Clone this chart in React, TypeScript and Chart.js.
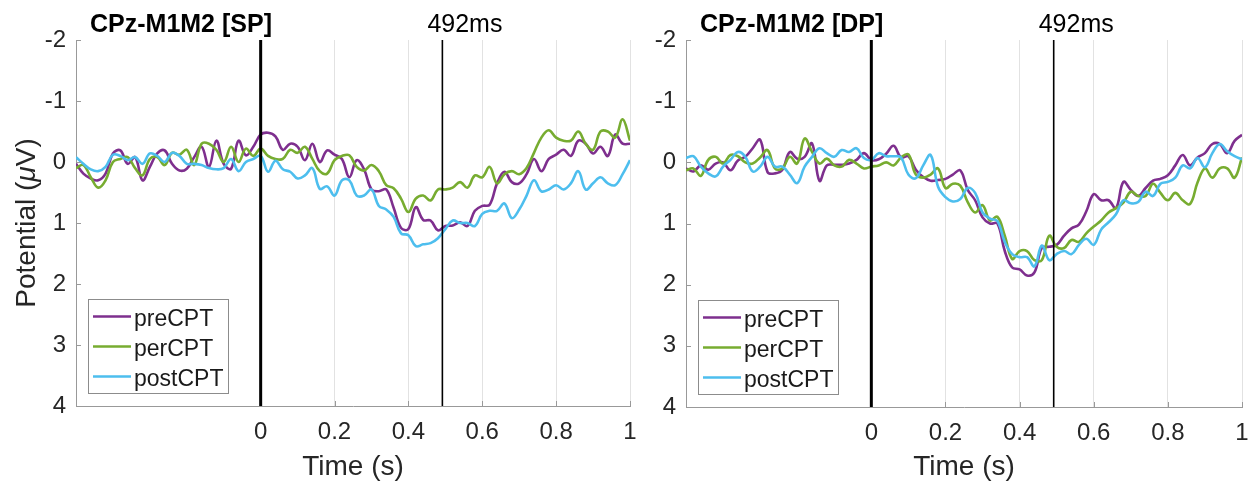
import React, { useEffect, useRef } from 'react';
import { Chart, registerables } from 'chart.js';

Chart.register(...registerables);

// ---------- data ----------
const TIME = [
  -0.5, -0.48, -0.46, -0.44, -0.42, -0.4, -0.38, -0.36, -0.34, -0.32, -0.3, -0.28, -0.26,
  -0.24, -0.22, -0.2, -0.18, -0.16, -0.14, -0.12, -0.1, -0.08, -0.06, -0.04, -0.02, 0,
  0.02, 0.04, 0.06, 0.08, 0.1, 0.12, 0.14, 0.16, 0.18, 0.2, 0.22, 0.24, 0.26, 0.28, 0.3,
  0.32, 0.34, 0.36, 0.38, 0.4, 0.42, 0.44, 0.46, 0.48, 0.5, 0.52, 0.54, 0.56, 0.58, 0.6,
  0.62, 0.64, 0.66, 0.68, 0.7, 0.72, 0.74, 0.76, 0.78, 0.8, 0.82, 0.84, 0.86, 0.88, 0.9,
  0.92, 0.94, 0.96, 0.98, 1,
];

const SP_PRE = [
  0.03, 0.19, 0.27, 0.3, 0.19, -0.14, -0.19, 0.03, -0.08, 0.3, 0.08, -0.14, -0.19, 0.03, 0.14, 0.11, -0.08, -0.25, 0.08, -0.35, 0.03, 0.11, -0.35, -0.11, -0.25, -0.45,
  -0.48, -0.42, -0.2, -0.3, -0.25, -0.03, -0.3, 0.0, -0.19, -0.12, -0.05, 0.25, -0.03, 0.12, 0.45, 0.48, 0.45, 0.75, 1.08, 1.1, 0.74, 0.95, 0.96, 1.12, 1.05,
  1.04, 0.99, 1.05, 0.8, 0.72, 0.7, 0.35, 0.16, 0.33, 0.35, 0.2, -0.05, 0.15, -0.05, -0.12, -0.2, -0.1, -0.35, -0.3, -0.14, -0.25, -0.1, -0.45, -0.3, -0.3,
];
const SP_PER = [
  0.1, 0.05, 0.25, 0.42, 0.3, 0.0, -0.05, -0.08, 0.1, 0.22, -0.05, -0.08, 0.05, -0.15, -0.12, -0.2, 0.05, -0.3, -0.3, -0.2, 0.0, -0.25, 0.0, -0.22, -0.1, -0.22,
  -0.1, -0.05, -0.05, -0.2, -0.15, -0.25, -0.05, 0.15, 0.19, -0.03, -0.1, -0.11, 0.08, 0.14, 0.05, 0.15, 0.38, 0.43, 0.6, 0.82, 0.6, 0.55, 0.63, 0.45, 0.45,
  0.42, 0.33, 0.42, 0.22, 0.25, 0.08, 0.35, 0.2, 0.15, 0.2, 0.1, -0.15, -0.4, -0.52, -0.4, -0.35, -0.35, -0.5, -0.3, -0.2, -0.5, -0.5, -0.4, -0.7, -0.35,
];
const SP_POST = [
  -0.08, 0.03, 0.12, 0.15, 0.08, -0.12, -0.1, -0.03, -0.08, 0.03, -0.14, -0.1, 0.0, -0.15, -0.1, 0.03, 0.03, 0.05, 0.1, 0.12, 0.1, -0.05, 0.15, 0.0, -0.05, -0.1,
  0.16, -0.02, 0.12, 0.16, 0.27, 0.22, 0.1, 0.44, 0.4, 0.55, 0.3, 0.3, 0.55, 0.55, 0.45, 0.72, 0.78, 0.9, 1.17, 1.2, 1.38, 1.35, 1.33, 1.25, 1.1,
  0.96, 1.0, 1.0, 1.05, 0.85, 0.8, 0.8, 0.68, 0.92, 0.78, 0.55, 0.3, 0.48, 0.45, 0.38, 0.45, 0.35, 0.15, 0.45, 0.35, 0.25, 0.35, 0.38, 0.2, -0.03,
];

const DP_PRE = [
  0.1, 0.15, 0.05, 0.12, 0.02, 0.0, 0.13, -0.03, -0.09, -0.23, -0.37, 0.16, 0.18, 0.12, -0.17, -0.06, -0.09, -0.31, 0.3, 0.05, 0.04, 0.04, 0.02, -0.04, -0.15, -0.04,
  -0.05, -0.14, -0.27, -0.08, -0.1, 0.12, 0.24, 0.3, 0.29, 0.27, 0.2, 0.13, 0.45, 0.62, 0.9, 1.0, 1.0, 1.45, 1.72, 1.75, 1.85, 1.8, 1.4, 1.38, 1.35,
  1.2, 1.08, 1.02, 0.8, 0.52, 0.62, 0.62, 0.75, 0.32, 0.45, 0.55, 0.42, 0.3, 0.27, 0.21, 0.05, -0.12, 0.05, -0.08, -0.15, -0.3, -0.3, -0.15, -0.35, -0.45,
];
const DP_PER = [
  0.13, 0.1, 0.22, -0.04, -0.09, 0.02, -0.12, -0.1, 0.0, 0.02, -0.08, -0.2, 0.1, 0.1, -0.09, 0.02, -0.39, -0.17, 0.02, -0.06, 0.05, 0.07, -0.04, 0.02, 0.1, 0.07,
  0.05, 0.0, 0.05, -0.08, -0.13, 0.2, 0.25, 0.2, 0.1, 0.42, 0.35, 0.38, 0.65, 0.82, 0.7, 0.95, 0.89, 1.2, 1.58, 1.45, 1.45, 1.6, 1.6, 1.2, 1.38,
  1.4, 1.27, 1.3, 1.16, 1.05, 0.95, 0.82, 0.75, 0.66, 0.48, 0.55, 0.55, 0.35, 0.5, 0.62, 0.5, 0.62, 0.68, 0.33, 0.1, 0.25, 0.1, 0.1, 0.25, -0.08,
];
const DP_POST = [
  -0.07, -0.1, 0.07, 0.18, 0.23, 0.07, -0.04, -0.17, -0.09, 0.15, 0.07, -0.09, 0.07, 0.07, 0.2, 0.34, 0.07, -0.09, -0.23, -0.15, -0.09, -0.2, -0.17, -0.23, -0.07, -0.04,
  -0.15, -0.1, -0.1, -0.08, 0.2, 0.26, 0.05, -0.12, 0.4, 0.57, 0.64, 0.6, 0.42, 0.5, 0.82, 0.92, 0.96, 1.3, 1.5, 1.55, 1.55, 1.7, 1.36, 1.6, 1.5,
  1.45, 1.5, 1.35, 1.25, 1.35, 1.1, 0.98, 0.85, 0.62, 0.67, 0.65, 0.48, 0.55, 0.35, 0.32, 0.25, 0.05, 0.1, -0.07, 0.08, -0.15, -0.3, -0.18, -0.1, -0.05,
];

const SERIES_NAMES = ['preCPT', 'perCPT', 'postCPT'];
const SERIES_COLORS = ['#7E2F8E', '#77AC30', '#4DBEEE'];
const X_TICKS = [0, 0.2, 0.4, 0.6, 0.8, 1];
const X_TICK_LABELS = ['0', '0.2', '0.4', '0.6', '0.8', '1'];
const Y_TICKS = [-2, -1, 0, 1, 2, 3, 4];
const Y_TICK_LABELS = ['-2', '-1', '0', '1', '2', '3', '4'];
const X_MIN = -0.5;
const X_MAX = 1;
const Y_MIN = -2;
const Y_MAX = 4;
const MARKER_T = 0.492;
const MARKER_LABEL = '492ms';
const X_TITLE = 'Time (s)';

const FONT = "'Liberation Sans', Arial, Helvetica, sans-serif";
const H = 483;

type Area = { left: number; right: number; top: number; bottom: number };
type PanelCfg = {
  title: string;
  series: number[][];
  area: Area;
  showYTitle: boolean;
};

const PANEL_SP: PanelCfg = {
  title: 'CPz-M1M2 [SP]',
  series: [SP_PRE, SP_PER, SP_POST],
  area: { left: 76, right: 630, top: 40, bottom: 406 },
  showYTitle: true,
};
const PANEL_DP: PanelCfg = {
  title: 'CPz-M1M2 [DP]',
  series: [DP_PRE, DP_PER, DP_POST],
  area: { left: 46, right: 602, top: 40, bottom: 407 },
  showYTitle: false,
};

const overlay = {
  id: 'overlay',
  afterDatasetsDraw(chart: any, _args: any, opts: any) {
    const { ctx, chartArea: a } = chart;
    const xs = chart.scales.x;
    const ys = chart.scales.y;
    ctx.save();

    // tick marks (inward)
    ctx.strokeStyle = '#999';
    ctx.lineWidth = 1;
    X_TICKS.forEach((v) => {
      const px = Math.round(xs.getPixelForValue(v)) + 0.5;
      ctx.beginPath();
      ctx.moveTo(px, a.bottom);
      ctx.lineTo(px, a.bottom - 5);
      ctx.stroke();
    });
    Y_TICKS.forEach((v) => {
      const py = Math.round(ys.getPixelForValue(v)) + 0.5;
      ctx.beginPath();
      ctx.moveTo(a.left, py);
      ctx.lineTo(a.left + 5, py);
      ctx.stroke();
    });

    // zero line
    const x0 = xs.getPixelForValue(0);
    ctx.strokeStyle = '#000';
    ctx.lineWidth = 3;
    ctx.beginPath();
    ctx.moveTo(x0, a.top);
    ctx.lineTo(x0, a.bottom);
    ctx.stroke();

    // marker line
    const xm = xs.getPixelForValue(MARKER_T);
    ctx.lineWidth = 1.6;
    ctx.beginPath();
    ctx.moveTo(xm, a.top);
    ctx.lineTo(xm, a.bottom);
    ctx.stroke();

    // legend
    const lx = a.left + 12;
    const ly = a.bottom - 107;
    ctx.fillStyle = '#fff';
    ctx.fillRect(lx, ly, 140, 94);
    ctx.strokeStyle = '#8c8c8c';
    ctx.lineWidth = 1;
    ctx.strokeRect(Math.round(lx) + 0.5, Math.round(ly) + 0.5, 140, 94);
    ctx.font = `23px ${FONT}`;
    ctx.textAlign = 'left';
    ctx.textBaseline = 'alphabetic';
    SERIES_NAMES.forEach((name, i) => {
      const ry = ly + 17.5 + i * 30;
      ctx.strokeStyle = SERIES_COLORS[i];
      ctx.lineWidth = 2.5;
      ctx.beginPath();
      ctx.moveTo(lx + 5, ry);
      ctx.lineTo(lx + 43, ry);
      ctx.stroke();
      ctx.fillStyle = '#1a1a1a';
      ctx.fillText(name, lx + 46, ry + 9);
    });

    // title
    ctx.fillStyle = '#000';
    ctx.font = `bold 25px ${FONT}`;
    ctx.fillText(opts.title, a.left + 14, 31.5);

    // marker label
    ctx.font = `25px ${FONT}`;
    ctx.fillStyle = '#000';
    ctx.fillText(MARKER_LABEL, xm - 15, 31.5);

    // x title
    ctx.font = `28px ${FONT}`;
    ctx.fillStyle = '#262626';
    ctx.textAlign = 'center';
    ctx.fillText(X_TITLE, (a.left + a.right) / 2, 475);

    // y title with italic mu
    if (opts.showYTitle) {
      const p1 = 'Potential (';
      const p2 = '\u03BC';
      const p3 = 'V)';
      const normal = `28px ${FONT}`;
      const italic = `italic 28px ${FONT}`;
      ctx.font = normal;
      const w1 = ctx.measureText(p1).width;
      const w3 = ctx.measureText(p3).width;
      ctx.font = italic;
      const w2 = ctx.measureText(p2).width;
      const total = w1 + w2 + w3;
      ctx.translate(35, (a.top + a.bottom) / 2);
      ctx.rotate(-Math.PI / 2);
      ctx.textAlign = 'left';
      let cx = -total / 2;
      ctx.font = normal;
      ctx.fillText(p1, cx, 0);
      cx += w1;
      ctx.font = italic;
      ctx.fillText(p2, cx, 0);
      cx += w2;
      ctx.font = normal;
      ctx.fillText(p3, cx, 0);
    }
    ctx.restore();
  },
};

function buildConfig(w: number, cfg: PanelCfg): any {
  const a = cfg.area;
  return {
    type: 'line',
    data: {
      datasets: cfg.series.map((s, i) => ({
        label: SERIES_NAMES[i],
        data: TIME.map((t, j) => ({ x: t, y: s[j] })),
        borderColor: SERIES_COLORS[i],
        backgroundColor: SERIES_COLORS[i],
        borderWidth: 2.6,
        pointRadius: 0,
        tension: 0.4,
        fill: false,
        order: 2 - i,
      })),
    },
    options: {
      animation: false,
      responsive: false,
      maintainAspectRatio: false,
      events: [],
      layout: { padding: { left: 0, top: a.top, right: w - a.right, bottom: 0 } },
      plugins: {
        legend: { display: false },
        tooltip: { enabled: false },
        title: { display: false },
        overlay: { title: cfg.title, showYTitle: cfg.showYTitle },
      },
      scales: {
        x: {
          type: 'linear',
          min: X_MIN,
          max: X_MAX,
          afterBuildTicks: (s: any) => {
            s.ticks = X_TICKS.map((v) => ({ value: v }));
          },
          afterFit: (s: any) => {
            s.height = H - a.bottom;
            s.paddingLeft = 0;
            s.paddingRight = 0;
          },
          ticks: {
            autoSkip: false,
            maxRotation: 0,
            padding: 12,
            color: '#262626',
            font: { family: FONT, size: 24 },
            callback: (_v: any, i: number) => X_TICK_LABELS[i],
          },
          grid: { color: '#e2e2e2', drawTicks: false, lineWidth: 1 },
          border: { display: true, color: '#999', width: 1 },
        },
        y: {
          type: 'linear',
          reverse: true,
          min: Y_MIN,
          max: Y_MAX,
          afterBuildTicks: (s: any) => {
            s.ticks = Y_TICKS.map((v) => ({ value: v }));
          },
          afterFit: (s: any) => {
            s.width = a.left;
            s.paddingTop = 0;
            s.paddingBottom = 0;
          },
          ticks: {
            padding: 10,
            color: '#262626',
            font: { family: FONT, size: 24 },
            callback: (_v: any, i: number) => Y_TICK_LABELS[i],
          },
          grid: { display: false, drawTicks: false },
          border: { display: true, color: '#999', width: 1 },
        },
      },
    },
    plugins: [overlay],
  };
}

function Panel({ x, w, cfg }: { x: number; w: number; cfg: PanelCfg }) {
  const ref = useRef<HTMLCanvasElement>(null);
  useEffect(() => {
    if (!ref.current) return;
    const chart = new Chart(ref.current, buildConfig(w, cfg));
    return () => chart.destroy();
  }, []);
  return (
    <canvas
      ref={ref}
      width={w}
      height={H}
      style={{ position: 'absolute', left: x, top: 0, width: w, height: H }}
    />
  );
}

export default function App() {
  return (
    <div
      style={{
        position: 'fixed',
        left: 0,
        top: 0,
        width: 1250,
        height: H,
        background: '#fff',
        overflow: 'hidden',
      }}
    >
      <Panel x={0} w={640} cfg={PANEL_SP} />
      <Panel x={640} w={610} cfg={PANEL_DP} />
    </div>
  );
}
